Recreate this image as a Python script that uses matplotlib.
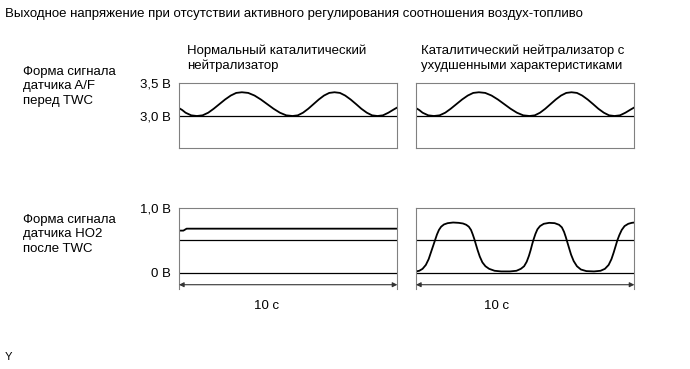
import matplotlib.pyplot as plt

plt.rcParams['font.family'] = ['Liberation Sans', 'DejaVu Sans']

# --- data ---
title = "Выходное напряжение при отсутствии активного регулирования соотношения воздух-топливо"
col_titles = ["Нормальный каталитический\nнейтрализатор",
              "Каталитический нейтрализатор с\nухудшенными характеристиками"]
row_titles = ["Форма сигнала\nдатчика A/F\nперед TWC",
              "Форма сигнала\nдатчика HO2\nпосле TWC"]
af_ticks = [3.0, 3.5]
af_ticklabels = ["3,0 В", "3,5 В"]
ho2_ticks = [0.0, 1.0]
ho2_ticklabels = ["0 В", "1,0 В"]
af_ref = 3.0
ho2_ref = [0.0, 0.5]
time_span = 10
time_label = "10 с"

# A/F sensor signal (same for both catalysts), time in s, voltage in V
af_t = [0.0, 0.15, 0.3, 0.56, 0.82, 1.08, 1.34, 1.59, 1.85, 2.11, 2.37, 2.62, 2.88,
        3.17, 3.46, 3.75, 4.04, 4.33, 4.62, 4.91, 5.20,
        5.44, 5.68, 5.92, 6.16, 6.40, 6.64, 6.88, 7.12,
        7.37, 7.61, 7.86, 8.11, 8.35, 8.60, 8.84, 9.09,
        9.34, 9.59, 9.84, 10.0]
af_v = [3.12, 3.09, 3.05, 3.01, 3.00, 3.01, 3.05, 3.11, 3.18, 3.25, 3.31, 3.35, 3.36,
        3.35, 3.31, 3.25, 3.18, 3.11, 3.05, 3.01, 3.00,
        3.01, 3.05, 3.11, 3.18, 3.25, 3.31, 3.35, 3.36,
        3.35, 3.31, 3.25, 3.18, 3.11, 3.05, 3.01, 3.00,
        3.01, 3.05, 3.10, 3.13]

# HO2 sensor, normal catalyst
ho2_norm_t = [0.0, 0.2, 0.35, 10.0]
ho2_norm_v = [0.65, 0.65, 0.68, 0.68]

# HO2 sensor, deteriorated catalyst
ho2_bad_t = [0.0, 0.15, 0.30, 0.45, 0.58, 0.68, 0.78, 0.87, 0.96, 1.05, 1.15, 1.28,
             1.45, 1.70, 1.95, 2.15, 2.30, 2.42, 2.52, 2.60, 2.67, 2.74, 2.82, 2.92,
             3.04, 3.18, 3.35, 3.60, 3.90, 4.30, 4.60, 4.80, 4.95, 5.07, 5.17, 5.25,
             5.32, 5.39, 5.47, 5.56, 5.68, 5.85, 6.10, 6.35, 6.55, 6.68, 6.78, 6.86,
             6.93, 7.01, 7.10, 7.22, 7.37, 7.55, 7.80, 8.15, 8.45, 8.65, 8.82, 8.95,
             9.05, 9.14, 9.22, 9.31, 9.42, 9.55, 9.72, 9.88, 10.0]
ho2_bad_v = [0.02, 0.03, 0.06, 0.12, 0.21, 0.31, 0.41, 0.50, 0.59, 0.66, 0.71, 0.745,
             0.765, 0.775, 0.77, 0.76, 0.74, 0.71, 0.66, 0.59, 0.52, 0.44, 0.35, 0.25,
             0.16, 0.10, 0.06, 0.03, 0.02, 0.02, 0.03, 0.06, 0.10, 0.17, 0.26, 0.35,
             0.44, 0.52, 0.60, 0.67, 0.72, 0.755, 0.77, 0.765, 0.74, 0.70, 0.63, 0.55,
             0.47, 0.38, 0.28, 0.18, 0.10, 0.05, 0.025, 0.02, 0.03, 0.06, 0.12, 0.21,
             0.31, 0.41, 0.50, 0.58, 0.66, 0.72, 0.755, 0.77, 0.775]

fig = plt.figure(figsize=(6.9, 3.69), dpi=100)

box_color = '#808080'
lefts = [0.2594, 0.6029]
width = 0.3165
fs = 9.5

for i, left in enumerate(lefts):
    # top panel: A/F sensor
    ax = fig.add_axes([left, 0.599, width, 0.176])
    ax.plot(af_t, af_v, color='black', linewidth=1.3)
    ax.axhline(af_ref, color='black', linewidth=0.9)
    ax.set_xlim(0, time_span)
    ax.set_ylim(2.515, 3.5)
    ax.set_xticks([])
    for s in ax.spines.values():
        s.set_color(box_color)
        s.set_linewidth(0.8)
    if i == 0:
        ax.set_yticks(af_ticks, af_ticklabels, fontsize=fs)
        ax.tick_params(axis='y', length=0, pad=6)
    else:
        ax.set_yticks([])

    # bottom panel: HO2 sensor
    bx = fig.add_axes([left, 0.217, width, 0.2195])
    if i == 0:
        bx.plot(ho2_norm_t, ho2_norm_v, color='black', linewidth=1.3)
    else:
        bx.plot(ho2_bad_t, ho2_bad_v, color='black', linewidth=1.3)
    for r in ho2_ref:
        bx.axhline(r, color='black', linewidth=0.9)
    bx.set_xlim(0, time_span)
    bx.set_ylim(-0.25, 1.0)
    bx.set_xticks([])
    bx.spines['bottom'].set_visible(False)
    for k in ['left', 'right', 'top']:
        bx.spines[k].set_color(box_color)
        bx.spines[k].set_linewidth(0.8)
    if i == 0:
        bx.set_yticks(ho2_ticks, ho2_ticklabels, fontsize=fs)
        bx.tick_params(axis='y', length=0, pad=6)
    else:
        bx.set_yticks([])
    bx.annotate('', xy=(time_span, -0.185), xytext=(0, -0.185),
                arrowprops=dict(arrowstyle='<|-|>', color='#333333', lw=0.8,
                                mutation_scale=7, shrinkA=0, shrinkB=0))

# texts
fig.text(0.007, 0.962, title, fontsize=fs, va='center', ha='left')
fig.text(0.271, 0.843, col_titles[0], fontsize=fs, va='center', ha='left', linespacing=1.3)
fig.text(0.610, 0.843, col_titles[1], fontsize=fs, va='center', ha='left', linespacing=1.3)
fig.text(0.033, 0.766, row_titles[0], fontsize=fs, va='center', ha='left', linespacing=1.3)
fig.text(0.033, 0.365, row_titles[1], fontsize=fs, va='center', ha='left', linespacing=1.3)
fig.text(0.386, 0.171, time_label, fontsize=fs, va='center', ha='center')
fig.text(0.720, 0.171, time_label, fontsize=fs, va='center', ha='center')
fig.text(0.007, 0.033, "Y", fontsize=8, va='center', ha='left')

fig.savefig('out.png', dpi=100)
